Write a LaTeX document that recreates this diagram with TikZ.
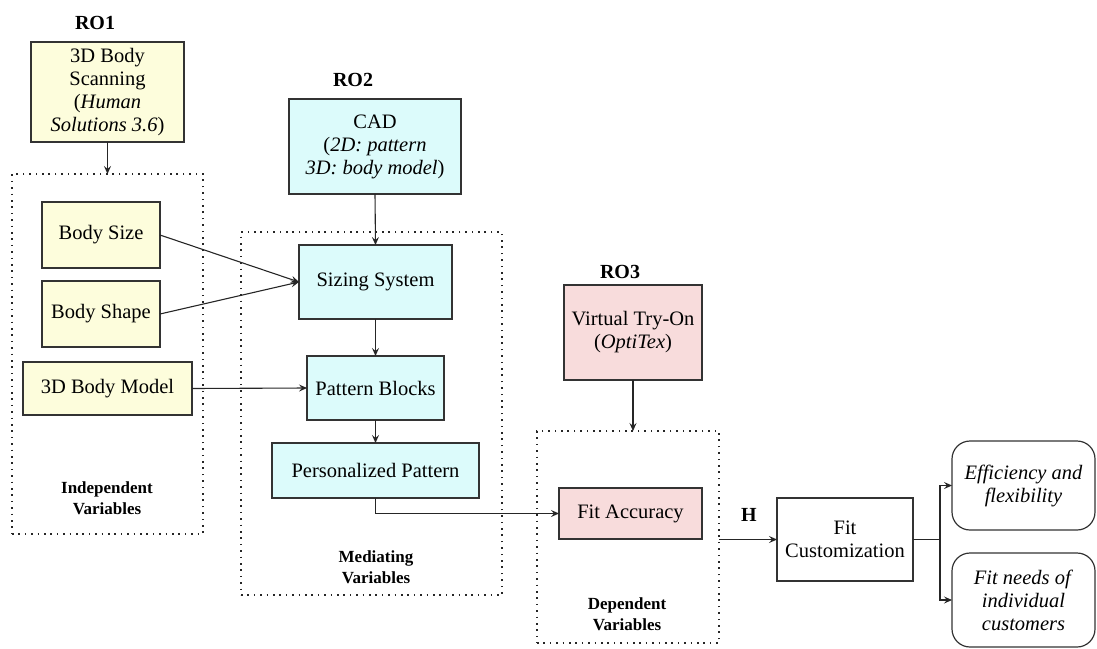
\documentclass[tikz,border=0pt]{standalone}
\usepackage{fontspec}
\setmainfont{Liberation Serif}[
  UprightFont = *,
  BoldFont = * Bold,
  ItalicFont = * Italic,
  BoldItalicFont = * Bold Italic]
\usetikzlibrary{arrows.meta}

\definecolor{scanfill}{HTML}{FDFDDC}
\definecolor{cadfill}{HTML}{DCFBFB}
\definecolor{tryfill}{HTML}{F8DCDC}
\definecolor{edge}{HTML}{333333}

\tikzset{
  base/.style={inner sep=0pt, outer sep=0pt, align=center,
    font=\rmfamily\fontsize{20.5}{23}\selectfont},
  box/.style={base, draw=edge, line width=1.2pt},
  yellowbox/.style={box, fill=scanfill},
  cyanbox/.style={box, fill=cadfill},
  pinkbox/.style={box, fill=tryfill},
  whitebox/.style={box, fill=white},
  roundbox/.style={box, fill=white, rounded corners=18pt},
  group/.style={inner sep=0pt, outer sep=0pt, draw=black!85, line width=1.3pt,
    dash pattern=on 1.6pt off 4.8pt},
  grouplabel/.style={base, font=\rmfamily\fontsize{17}{21}\selectfont\bfseries},
  ro/.style={base, font=\rmfamily\fontsize{20}{23}\selectfont\bfseries},
  conn/.style={draw=black!85, line width=1.1pt},
  arr/.style={conn, -{Stealth[length=8pt,width=7pt,inset=3pt]}},
}

\begin{document}
\begin{tikzpicture}[x=1pt, y=-1pt]
\useasboundingbox (0,0) rectangle (1097,648);

% dotted variable groups
\node[group, minimum width=191pt, minimum height=360pt] (iv) at (107.5,354) {};
\node[group, minimum width=261pt, minimum height=363pt] (mv) at (371.5,413.5) {};
\node[group, minimum width=182pt, minimum height=212pt] (dv) at (628,537) {};

% research objective headings
\node[ro] (ro1) at (95,23) {RO1};
\node[ro] (ro2) at (353,80) {RO2};
\node[ro] (ro3) at (620,272) {RO3};

% tools
\node[yellowbox, minimum width=153pt, minimum height=100pt] (scan) at (107.5,92)
  {3D Body\\Scanning\\(\textit{Human}\\\textit{Solutions 3.6})};
\node[cyanbox, minimum width=172pt, minimum height=95pt] (cad) at (375,146.5)
  {CAD\\(\textit{2D: pattern}\\\textit{3D: body model})};
\node[pinkbox, minimum width=138pt, minimum height=95pt] (vto) at (633,332.5)
  {Virtual Try-On\\(\textit{OptiTex})};

% independent variables
\node[yellowbox, minimum width=118pt, minimum height=66pt] (size) at (101,235) {Body Size};
\node[yellowbox, minimum width=118pt, minimum height=66pt] (shape) at (101,314) {Body Shape};
\node[yellowbox, minimum width=169pt, minimum height=53pt] (model) at (107.5,388.5) {3D Body Model};
\node[grouplabel] (ivlabel) at (107,498.5) {Independent\\Variables};

% mediating variables
\node[cyanbox, minimum width=153pt, minimum height=74pt] (sizing) at (375.5,282) {Sizing System};
\node[cyanbox, minimum width=137pt, minimum height=64pt] (blocks) at (375.5,388) {Pattern Blocks};
\node[cyanbox, minimum width=207pt, minimum height=55pt] (pp) at (375.5,470.5) {Personalized Pattern};
\node[grouplabel] (mvlabel) at (376,567) {Mediating\\Variables};

% dependent variable
\node[pinkbox, minimum width=143pt, minimum height=51pt] (fa) at (630.5,513.5) {Fit Accuracy};
\node[grouplabel] (dvlabel) at (627,614) {Dependent\\Variables};

% outcome
\node[ro] (h) at (749,515) {H};
\node[whitebox, minimum width=136pt, minimum height=83pt] (fc) at (845,539.5) {Fit\\Customization};
\node[roundbox, minimum width=143pt, minimum height=89pt] (eff) at (1023.5,485.5)
  {\textit{Efficiency and}\\\textit{flexibility}};
\node[roundbox, minimum width=143pt, minimum height=94pt] (needs) at (1023.5,600)
  {\textit{Fit needs of}\\\textit{individual}\\\textit{customers}};

% connectors
\draw[arr] (scan.south) -- (scan.south |- iv.north);
\draw[arr] (cad.south) -- (sizing.north);
\draw[arr] (vto.south) -- (vto.south |- dv.north);
\draw[arr] (size.east) -- (sizing.west);
\draw[arr] (shape.east) -- (sizing.west);
\draw[arr] (model.east) -- (blocks.west);
\draw[arr] (sizing.south) -- (blocks.north);
\draw[arr] (blocks.south) -- (pp.north);
\draw[arr] (pp.south) |- (fa.west);
\draw[arr] (dv.east |- fc.west) -- (fc.west);
\coordinate (split) at (940,539.5);
\draw[conn] (fc.east) -- (split);
\draw[arr] (split) |- (eff.west);
\draw[arr] (split) |- (needs.west);
\end{tikzpicture}
\end{document}
